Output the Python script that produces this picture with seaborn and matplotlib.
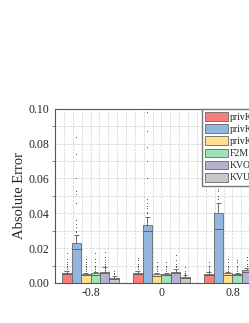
import pandas as pd
import matplotlib.pyplot as plt
import seaborn as sns
from matplotlib.ticker import MultipleLocator

# x groups (correlation) and methods
correlations = [-0.8, 0.0, 0.8]
corr_labels = ['-0.8', '0', '0.8']
methods = ['privKV', 'privKVM', 'privKVM*', 'F2M', 'KVOH', 'KVUE']
colors = ['#f97d7d', '#92b6dd', '#fee08c', '#9fe2b6', '#b3b2d3', '#c8c8c8']

# box top, inner line and whisker cap for each method at -0.8, 0, 0.8
box_top = {
    'privKV':   [0.0057, 0.0059, 0.0052],
    'privKVM':  [0.0232, 0.0333, 0.0402],
    'privKVM*': [0.0050, 0.0050, 0.0055],
    'F2M':      [0.0055, 0.0050, 0.0050],
    'KVOH':     [0.0065, 0.0065, 0.0072],
    'KVUE':     [0.0030, 0.0035, 0.0035],
}
box_mid = {
    'privKV':   [0.0050, 0.0052, 0.0045],
    'privKVM':  [0.0194, 0.0301, 0.0310],
    'privKVM*': [0.0043, 0.0042, 0.0048],
    'F2M':      [0.0048, 0.0044, 0.0043],
    'KVOH':     [0.0058, 0.0058, 0.0064],
    'KVUE':     [0.0025, 0.0029, 0.0030],
}
whisker = {
    'privKV':   [0.0068, 0.0070, 0.0062],
    'privKVM':  [0.0274, 0.0378, 0.0460],
    'privKVM*': [0.0060, 0.0058, 0.0065],
    'F2M':      [0.0065, 0.0060, 0.0060],
    'KVOH':     [0.0090, 0.0082, 0.0088],
    'KVUE':     [0.0040, 0.0045, 0.0045],
}
# outlying points above the whiskers
fliers = {
    'privKV':   [[0.008, 0.009, 0.010, 0.011, 0.012, 0.014, 0.017],
                 [0.008, 0.009, 0.010, 0.011, 0.013, 0.0145],
                 [0.007, 0.008, 0.009, 0.010, 0.012]],
    'privKVM':  [[0.029, 0.030, 0.032, 0.034, 0.036, 0.046, 0.051, 0.053, 0.060, 0.074, 0.084],
                 [0.040, 0.041, 0.043, 0.044, 0.046, 0.048, 0.060, 0.070, 0.078, 0.087, 0.098],
                 [0.048, 0.050, 0.053, 0.054]],
    'privKVM*': [[0.007, 0.008, 0.009, 0.010, 0.011, 0.012, 0.014],
                 [0.007, 0.008, 0.009, 0.010, 0.012],
                 [0.007, 0.008, 0.009, 0.010, 0.012, 0.014]],
    'F2M':      [[0.007, 0.008, 0.009, 0.010, 0.012, 0.014, 0.017],
                 [0.007, 0.008, 0.009, 0.010, 0.012],
                 [0.007, 0.008, 0.009, 0.010, 0.012, 0.013]],
    'KVOH':     [[0.010, 0.011, 0.012, 0.013, 0.015, 0.018],
                 [0.009, 0.010, 0.011, 0.013, 0.016],
                 [0.010, 0.011, 0.013, 0.015]],
    'KVUE':     [[0.005, 0.006, 0.007],
                 [0.005, 0.006, 0.007, 0.009],
                 [0.005, 0.006, 0.007]],
}

rows = []
for m in methods:
    for c, v in zip(correlations, box_top[m]):
        rows.append({'corr': c, 'method': m, 'err': v})
df = pd.DataFrame(rows)

sns.set_style('white')
plt.rcParams['font.family'] = ['Liberation Serif', 'DejaVu Serif']
plt.rcParams['axes.unicode_minus'] = False

fig = plt.figure(figsize=(2.49, 3.23), dpi=100)
ax = fig.add_axes([0.221, 0.124, 0.855, 0.539])

sns.barplot(data=df, x='corr', y='err', hue='method', hue_order=methods,
            palette=colors, saturation=1, native_scale=True, width=0.8, gap=0,
            errorbar=None, edgecolor='#666666', linewidth=0.6, ax=ax, zorder=2)

# inner line, whisker and outliers on top of each bar
for m, cont in zip(methods, ax.containers):
    for i, bar in enumerate(cont):
        xc = bar.get_x() + bar.get_width() / 2
        w = bar.get_width()
        ax.hlines(box_mid[m][i], xc - w / 2, xc + w / 2, color='#555555', lw=0.6, zorder=3)
        ax.vlines(xc, box_top[m][i], whisker[m][i], color='#555555', lw=0.6, zorder=3)
        ax.hlines(whisker[m][i], xc - w / 4, xc + w / 4, color='#555555', lw=0.6, zorder=3)
        ax.scatter([xc] * len(fliers[m][i]), fliers[m][i], s=0.6, color='#444444',
                   linewidths=0, zorder=3)

ax.set_xlim(-1.2, 1.2)
ax.set_ylim(0, 0.10)
ax.set_xticks(correlations)
ax.set_xticklabels(corr_labels)
ax.xaxis.set_minor_locator(MultipleLocator(0.1))
ax.yaxis.set_major_locator(MultipleLocator(0.02))
ax.yaxis.set_minor_locator(MultipleLocator(0.01))
ax.yaxis.set_major_formatter(plt.FormatStrFormatter('%.2f'))
ax.grid(which='both', color='#d0d0d0', linestyle='--', linewidth=0.5, zorder=0)
ax.set_axisbelow(True)
ax.tick_params(axis='y', which='major', length=3, width=0.6, color='#555555', labelsize=8.5, pad=1)
ax.tick_params(axis='y', which='minor', length=2, width=0.5, color='#555555', left=True)
ax.tick_params(axis='x', which='major', length=0, labelsize=8.5, pad=3)
ax.tick_params(axis='x', which='minor', length=0)
for s in ax.spines.values():
    s.set_color('#555555')
    s.set_linewidth(0.8)
ax.set_xlabel('')
ax.set_ylabel('Absolute Error', fontsize=10.5, labelpad=2)

handles, labels = ax.get_legend_handles_labels()
ax.legend(handles, labels, loc='upper left', bbox_to_anchor=(0.69, 1.0),
          borderaxespad=0, fontsize=7, fancybox=False, edgecolor='#777777',
          framealpha=1, handlelength=2.3, handleheight=1.0, labelspacing=0.25,
          borderpad=0.35, handletextpad=0.2)

plt.savefig('out.png', dpi=100)
